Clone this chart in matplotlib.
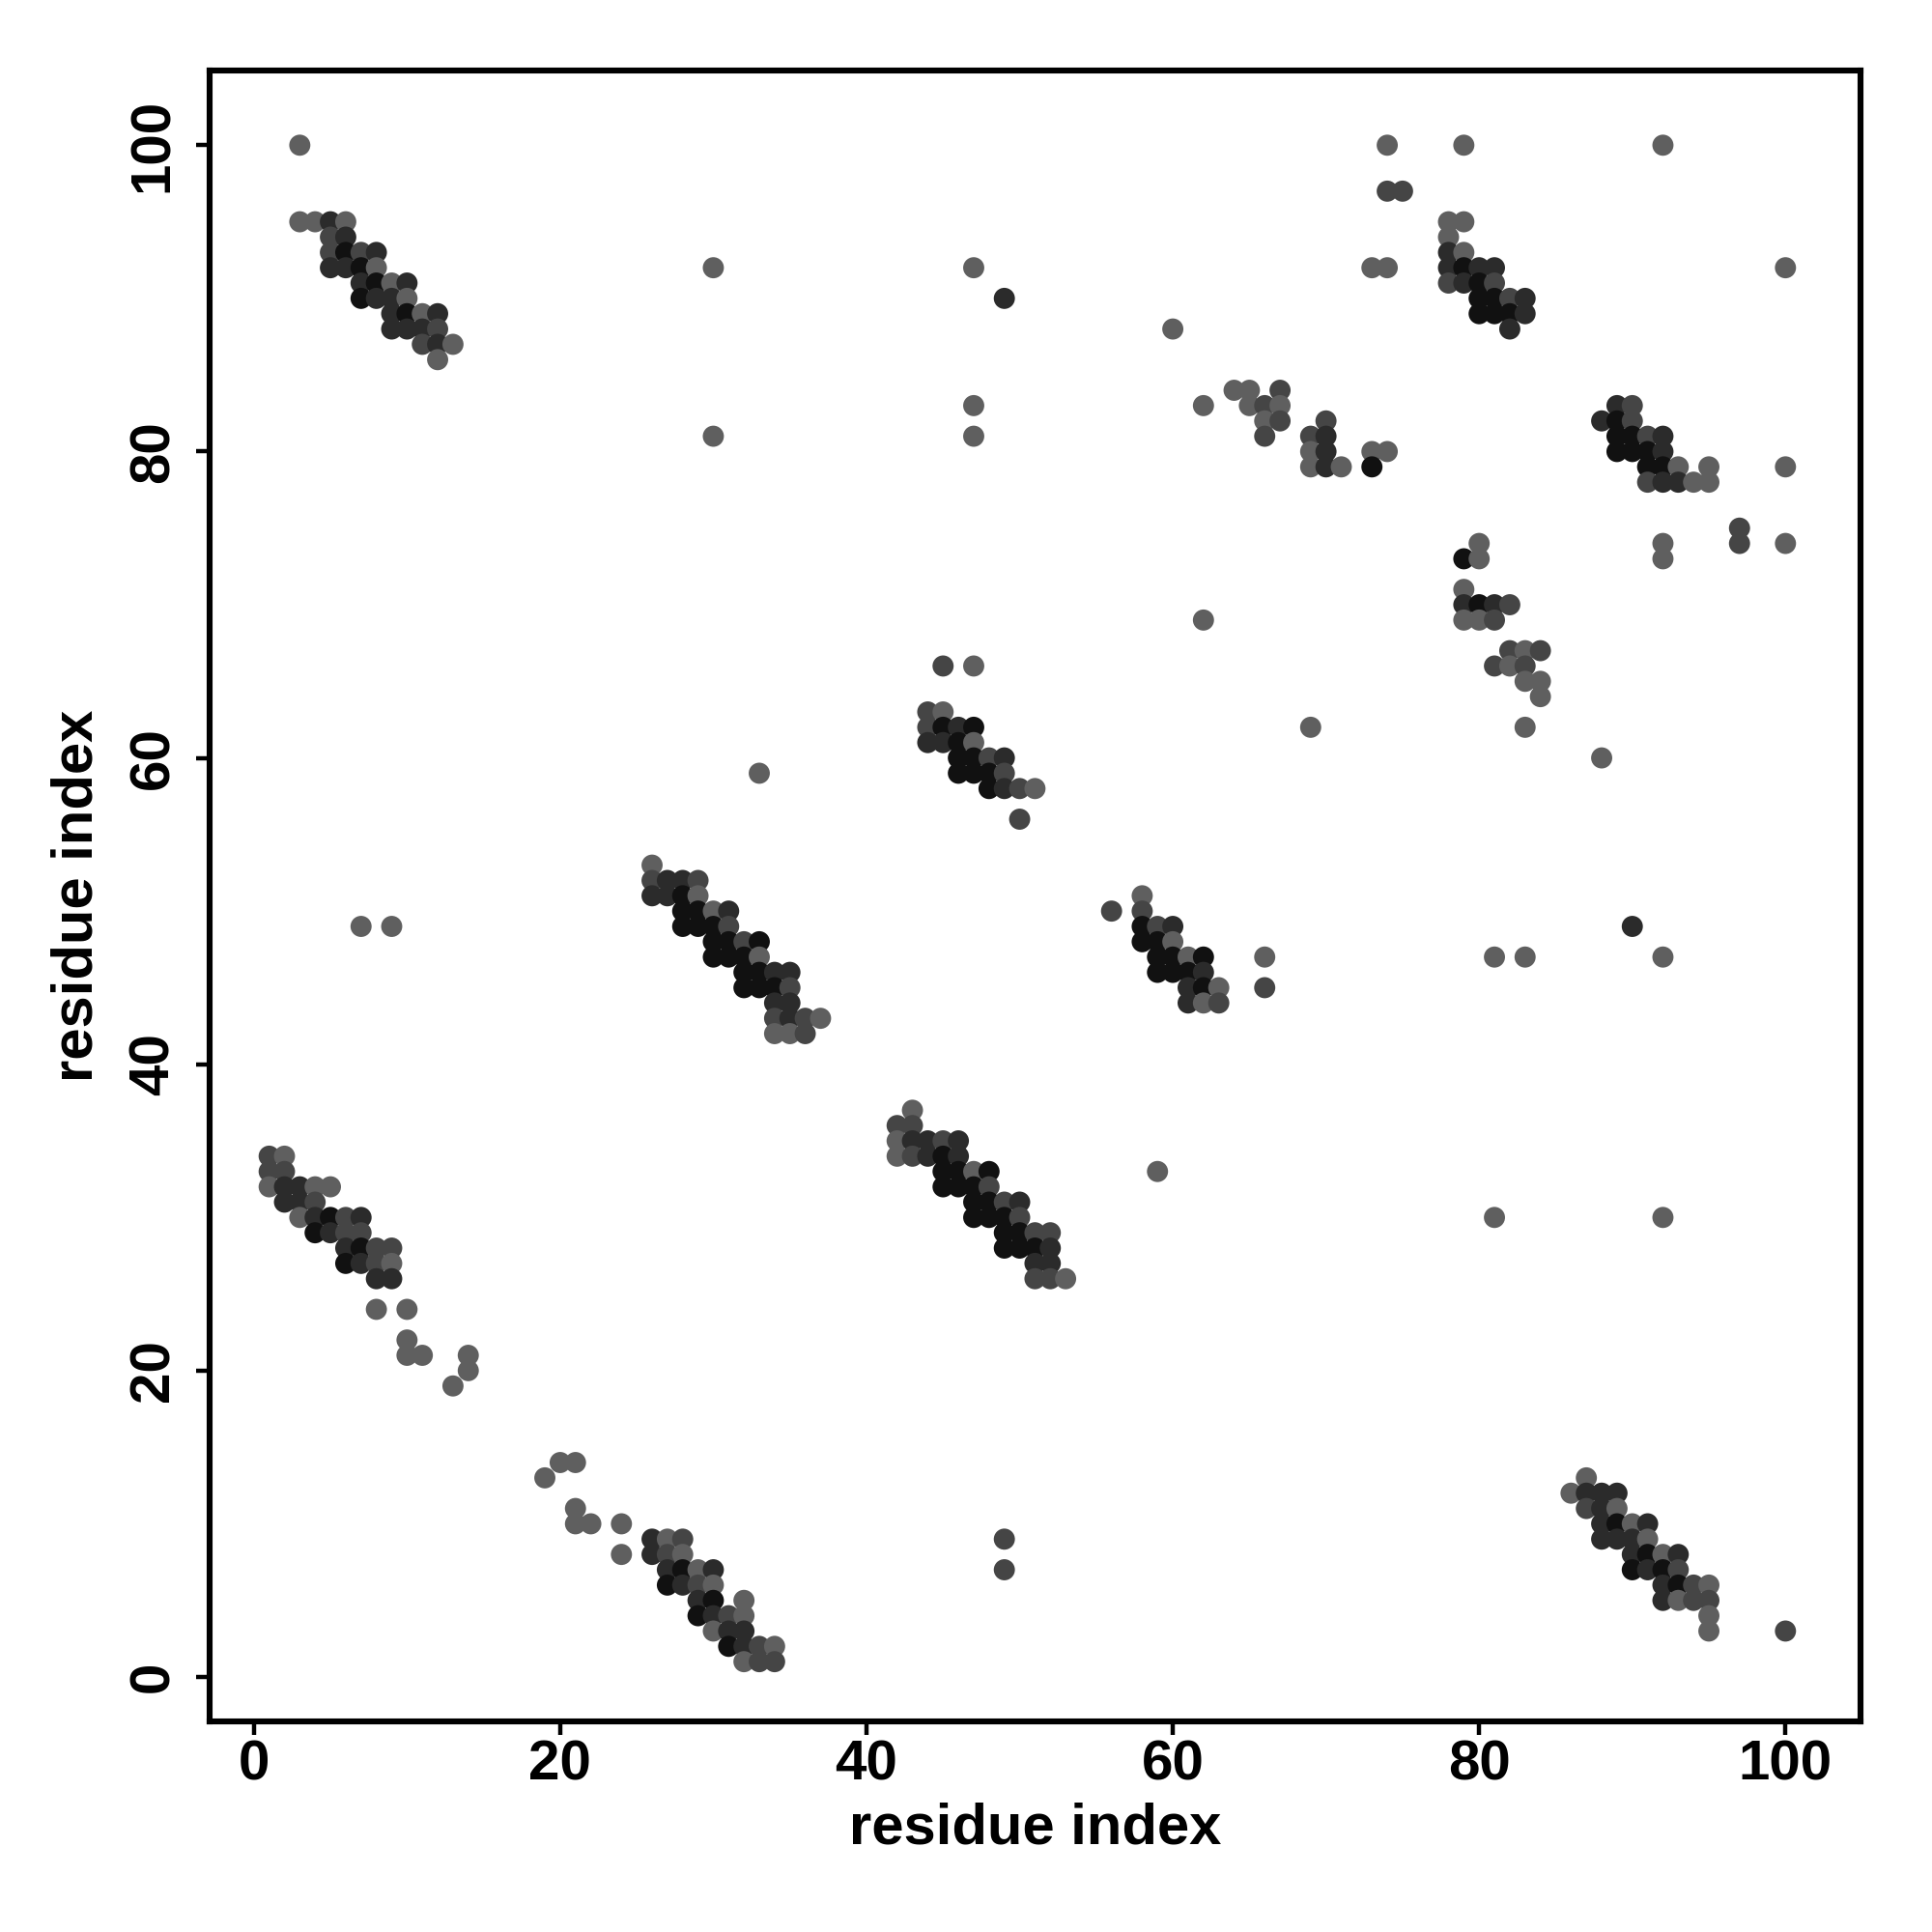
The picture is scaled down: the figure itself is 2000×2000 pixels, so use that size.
import matplotlib
matplotlib.use("Agg")
import matplotlib.pyplot as plt

plt.rcParams['font.family'] = ['Liberation Sans', 'DejaVu Sans']

# (residue i, residue j, shade level 1=darkest .. 4=lightest)
block_a = [(3,100,4),(3,95,4),(4,95,4),(5,95,2),(6,95,4),(5,94,3),(6,94,2),
           (5,93,3),(6,93,1),(7,93,3),(8,93,2),(5,92,2),(6,92,2),(7,92,1),(8,92,4),
           (7,91,2),(8,91,1),(9,91,4),(10,91,2),(7,90,1),(8,90,2),(9,90,2),(10,90,4),
           (9,89,2),(10,89,1),(11,89,4),(12,89,2),(9,88,2),(10,88,2),(11,88,2),(12,88,3),
           (11,87,3),(12,87,2),(13,87,4),(12,86,4)]
block_b = [(1,34,3),(2,34,4),(1,33,3),(2,33,3),(1,32,4),(2,32,2),(3,32,2),(4,32,4),(5,32,4),
           (2,31,2),(3,31,2),(4,31,3),(3,30,4),(4,30,2),(5,30,1),(6,30,3),(7,30,2),
           (4,29,1),(5,29,2),(6,29,3),(7,29,3),(6,28,2),(7,28,1),(8,28,3),(9,28,3),
           (6,27,1),(7,27,2),(8,27,3),(9,27,4),(8,26,2),(9,26,2),(8,24,4),(10,24,4),
           (10,22,4),(10,21,4),(11,21,4),(14,21,4),(14,20,4),(13,19,4)]
block_c = [(20,14,4),(21,14,4),(19,13,4),(21,11,4),(21,10,4),(22,10,4),(24,10,4),
           (26,9,2),(27,9,4),(28,9,3),(24,8,4),(26,8,2),(27,8,3),(28,8,4),
           (27,7,2),(28,7,1),(29,7,4),(30,7,2),(27,6,1),(28,6,2),(29,6,3),(30,6,4),
           (29,5,2),(30,5,1),(32,5,4),(29,4,1),(30,4,2),(31,4,3),(32,4,4),
           (30,3,4),(31,3,2),(32,3,2),(31,2,1),(32,2,2),(33,2,3),(34,2,4),
           (32,1,4),(33,1,3),(34,1,3)]
block_d = [(26,53,4),(26,52,3),(27,52,2),(28,52,2),(29,52,3),(26,51,2),(27,51,2),(28,51,1),(29,51,4),
           (28,50,1),(29,50,1),(30,50,4),(31,50,2),(28,49,1),(29,49,1),(30,49,1),(31,49,3),
           (30,48,1),(31,48,1),(32,48,3),(33,48,1),(30,47,1),(31,47,1),(32,47,1),(33,47,4),
           (32,46,1),(33,46,1),(34,46,2),(35,46,2),(32,45,1),(33,45,1),(34,45,1),(35,45,3),
           (34,44,2),(35,44,2),(34,43,3),(35,43,2),(36,43,3),(37,43,4),(34,42,4),(35,42,4),(36,42,3)]
block_e = [(43,37,4),(42,36,3),(43,36,3),(42,35,4),(43,35,2),(44,35,2),(45,35,3),(46,35,2),
           (42,34,4),(43,34,3),(44,34,2),(45,34,1),(46,34,2),(45,33,1),(46,33,1),(47,33,4),(48,33,1),
           (45,32,1),(46,32,1),(47,32,1),(48,32,3),(47,31,1),(48,31,1),(49,31,3),(50,31,2),
           (47,30,1),(48,30,1),(49,30,1),(50,30,3),(49,29,1),(50,29,1),(51,29,3),(52,29,3),
           (49,28,1),(50,28,1),(51,28,1),(52,28,2),(51,27,2),(52,27,2),(51,26,3),(52,26,3),(53,26,4)]
block_f = [(45,66,3),(47,66,4),(44,63,3),(45,63,4),(44,62,3),(45,62,1),(46,62,2),(47,62,1),
           (44,61,2),(45,61,2),(46,61,1),(47,61,4),(46,60,1),(47,60,1),(48,60,3),(49,60,2),
           (46,59,1),(47,59,1),(48,59,1),(49,59,3),(48,58,1),(49,58,2),(50,58,3),(51,58,4),(50,56,3)]
block_g = [(58,51,4),(56,50,3),(58,50,3),(58,49,1),(59,49,3),(60,49,2),(58,48,1),(59,48,1),(60,48,4),
           (59,47,1),(60,47,1),(61,47,4),(62,47,1),(59,46,1),(60,46,1),(61,46,1),(62,46,2),
           (61,45,2),(62,45,1),(63,45,4),(61,44,2),(62,44,4),(63,44,3),(66,47,4),(66,45,3)]
block_h = [(60,88,4),(62,83,4),(64,84,4),(65,84,4),(67,84,3),(65,83,4),(66,83,3),(67,83,4),
           (66,82,4),(67,82,3),(66,81,3),(70,82,3),(69,81,3),(70,81,2),(69,80,4),(70,80,2),
           (69,79,4),(70,79,2),(71,79,4),(73,80,4),(74,80,4),(73,79,1)]
block_i = [(74,100,4),(79,100,4),(74,97,3),(75,97,3),(73,92,4),(74,92,4),(78,95,4),(79,95,4),
           (78,94,4),(78,93,2),(79,93,4),(78,92,2),(79,92,1),(80,92,2),(81,92,2),
           (78,91,3),(79,91,2),(80,91,1),(81,91,3),(80,90,1),(81,90,1),(82,90,3),(83,90,2),
           (80,89,1),(81,89,1),(82,89,1),(83,89,2),(82,88,2)]
block_j = [(89,83,2),(90,83,3),(88,82,2),(89,82,1),(90,82,3),(89,81,1),(90,81,1),(91,81,3),(92,81,2),
           (89,80,1),(90,80,1),(91,80,1),(92,80,2),(91,79,1),(92,79,1),(93,79,4),(95,79,4),
           (91,78,3),(92,78,2),(93,78,2),(94,78,4),(95,78,4),(100,79,4),
           (97,75,3),(97,74,3),(100,74,4),(92,74,4),(92,73,4)]
block_k = [(80,74,4),(79,73,1),(80,73,4),(79,71,4),(79,70,2),(80,70,1),(81,70,2),(82,70,3),
           (79,69,4),(80,69,4),(81,69,3),(82,67,3),(83,67,4),(84,67,3),(81,66,3),(82,66,4),(83,66,3),
           (83,65,4),(84,65,4),(84,64,4),(83,62,4)]
block_l = [(87,13,4),(86,12,4),(87,12,2),(88,12,2),(89,12,2),(87,11,3),(88,11,2),(89,11,4),
           (88,10,2),(89,10,1),(90,10,4),(91,10,2),(88,9,2),(89,9,2),(90,9,2),(91,9,4),
           (90,8,2),(91,8,1),(92,8,4),(93,8,2),(90,7,1),(91,7,2),(92,7,1),(93,7,3),
           (92,6,2),(93,6,1),(94,6,3),(95,6,4),(92,5,2),(93,5,4),(94,5,3),(95,5,3),(95,4,4),(95,3,4)]
isolated = [(30,92,4),(30,81,4),(33,59,4),(7,49,4),(9,49,4),(47,92,4),(49,90,2),(47,83,4),(47,81,4),
            (62,69,4),(69,62,4),(59,33,4),(49,9,3),(49,7,3),(81,47,4),(83,47,4),(90,49,2),(92,47,4),
            (81,30,4),(92,30,4),(88,60,4),(100,92,4),(100,3,3),(92,100,4)]

shade_colors = {1: '#111111', 2: '#2b2b2b', 3: '#454545', 4: '#5f5f5f'}
tick_values = [0, 20, 40, 60, 80, 100]

points = (block_a + block_b + block_c + block_d + block_e + block_f + block_g +
          block_h + block_i + block_j + block_k + block_l + isolated)
xs = [p[0] for p in points]
ys = [p[1] for p in points]
cs = [shade_colors[p[2]] for p in points]

fig = plt.figure(figsize=(10, 10), dpi=200)
ax = fig.add_axes([0.1084, 0.109, 0.963 - 0.1084, 0.9637 - 0.109])
ax.scatter(xs, ys, c=cs, s=62, linewidths=0, zorder=3)
ax.set_xlim(-2.9, 104.9)
ax.set_ylim(-2.9, 104.9)
ax.set_xticks(tick_values)
ax.set_yticks(tick_values)
for sp in ax.spines.values():
    sp.set_linewidth(2.2)
ax.tick_params(axis='both', length=5, width=1.6, labelsize=21)
ax.tick_params(axis='x', pad=1.5)
ax.tick_params(axis='y', pad=6)
for lab in ax.get_xticklabels():
    lab.set_fontweight('bold')
for lab in ax.get_yticklabels():
    lab.set_fontweight('bold')
    lab.set_rotation(90)
    lab.set_va('center')
ax.set_xlabel('residue index', fontsize=21.5, fontweight='bold', labelpad=4)
ax.set_ylabel('residue index', fontsize=21.5, fontweight='bold', labelpad=9)
fig.savefig('out.png', dpi=200, facecolor='white')
